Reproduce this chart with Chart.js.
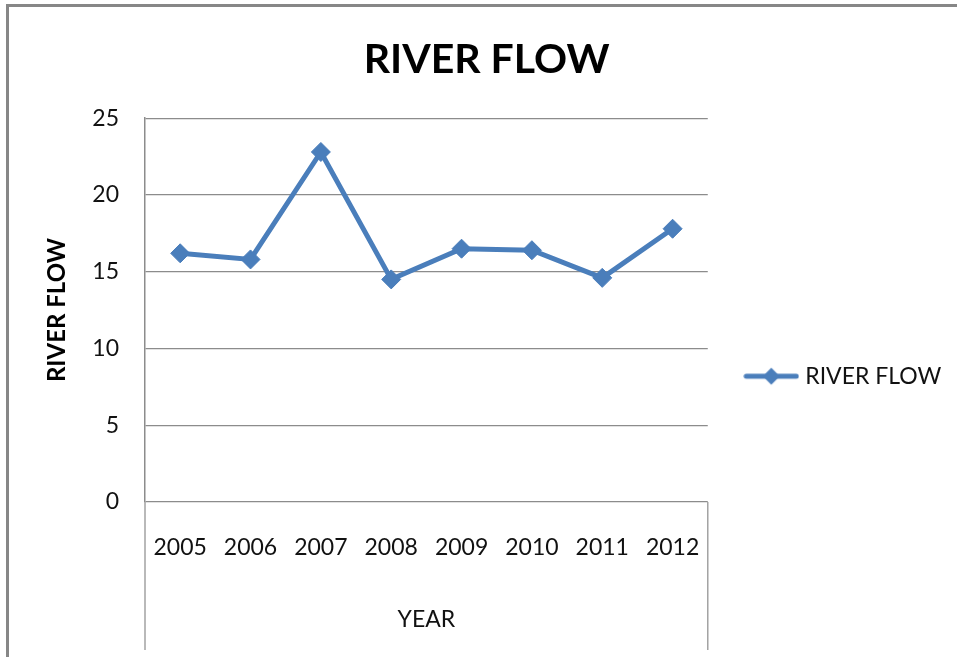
<!DOCTYPE html>
<html>
<head>
<meta charset="utf-8">
<title>River Flow</title>
<script src="https://cdn.jsdelivr.net/npm/chart.js@4.4.1/dist/chart.umd.min.js"></script>
<style>
  html, body { margin: 0; padding: 0; background: #fff; }
  #wrap { width: 957px; height: 657px; }
</style>
</head>
<body>
<div id="wrap"><canvas id="flowChart" width="957" height="657"></canvas></div>
<script>
const years = ["2005", "2006", "2007", "2008", "2009", "2010", "2011", "2012"]
const riverFlow = [16.2, 15.8, 22.8, 14.5, 16.5, 16.4, 14.6, 17.8]
const flowTicks = [0, 5, 10, 15, 20, 25]

const LINE_BLUE = "#4a7ebb"
const GRID_GREY = "#8c8c8c"
const TEXT = "#111"
const FONT = "Lato"

// small line + diamond swatch used as the legend symbol
function makeLegendIcon(){
  const icon = document.createElement("canvas")
  icon.width = 56
  icon.height = 20
  const c = icon.getContext("2d")
  c.strokeStyle = LINE_BLUE
  c.lineWidth = 5
  c.lineCap = "round"
  c.beginPath()
  c.moveTo(3, 10)
  c.lineTo(53, 10)
  c.stroke()
  c.fillStyle = LINE_BLUE
  c.beginPath()
  c.moveTo(28, 1.5)
  c.lineTo(36.5, 10)
  c.lineTo(28, 18.5)
  c.lineTo(19.5, 10)
  c.closePath()
  c.fill()
  return icon
}

const framePlugin = {
  id: "frame",
  beforeDraw(chart){
    const ctx = chart.ctx
    ctx.save()
    ctx.fillStyle = "#fff"
    ctx.fillRect(0, 0, chart.width, chart.height)
    ctx.strokeStyle = "#878787"
    ctx.lineWidth = 3
    ctx.beginPath()
    ctx.moveTo(7.5, chart.height)
    ctx.lineTo(7.5, 5.5)
    ctx.lineTo(chart.width, 5.5)
    ctx.stroke()
    ctx.restore()
  },
  afterDraw(chart){
    // category axis box running down past the year labels
    const {left, right, bottom} = chart.chartArea
    const ctx = chart.ctx
    ctx.save()
    ctx.strokeStyle = "#a3a3a3"
    ctx.lineWidth = 1.5
    ctx.beginPath()
    ctx.moveTo(left, bottom)
    ctx.lineTo(left, 650)
    ctx.moveTo(right, bottom)
    ctx.lineTo(right, 650)
    ctx.stroke()
    ctx.restore()
  }
}

new Chart(document.getElementById("flowChart"), {
  type: "line",
  data: {
    labels: years,
    datasets: [{
      label: "RIVER FLOW",
      data: riverFlow,
      borderColor: LINE_BLUE,
      backgroundColor: LINE_BLUE,
      borderWidth: 5,
      tension: 0,
      pointStyle: "rectRot",
      pointRadius: 9.5,
      pointBorderWidth: 1,
      pointBackgroundColor: LINE_BLUE,
      pointBorderColor: LINE_BLUE
    }]
  },
  options: {
    responsive: false,
    animation: false,
    layout: {
      padding: { left: 22, right: 5.7, top: 0, bottom: 0 }
    },
    plugins: {
      tooltip: { enabled: false },
      title: {
        display: true,
        text: "RIVER FLOW",
        color: "#000",
        font: { family: FONT, size: 41, weight: "bold" },
        padding: { top: 35, bottom: 34 }
      },
      legend: {
        position: "right",
        maxWidth: 300,
        title: {
          display: true,
          text: "",
          padding: { top: 0, bottom: 81 }
        },
        labels: {
          usePointStyle: true,
          pointStyle: makeLegendIcon(),
          pointStyleWidth: 45,
          padding: 41,
          color: TEXT,
          font: { family: FONT, size: 23 }
        }
      }
    },
    scales: {
      x: {
        offset: true,
        grid: { display: false },
        border: { display: false },
        ticks: {
          color: TEXT,
          padding: 24,
          font: { family: FONT, size: 23 }
        },
        title: {
          display: true,
          text: "YEAR",
          color: TEXT,
          font: { family: FONT, size: 23 },
          padding: { top: 0, bottom: 24 }
        },
        afterFit(scale){
          scale.height = 155
        }
      },
      y: {
        min: 0,
        max: 25,
        afterBuildTicks(axis){
          axis.ticks = flowTicks.map(v => ({ value: v }))
        },
        grid: {
          color: GRID_GREY,
          lineWidth: 1.2,
          drawTicks: false
        },
        border: { color: GRID_GREY, width: 1.5 },
        ticks: {
          color: TEXT,
          padding: 26,
          font: { family: FONT, size: 23 }
        },
        title: {
          display: true,
          text: "RIVER FLOW",
          color: "#000",
          font: { family: FONT, size: 24, weight: "bold" },
          padding: { top: 21, bottom: 0 }
        },
        afterFit(scale){
          scale.width = 123
        }
      }
    }
  },
  plugins: [framePlugin]
})
</script>
</body>
</html>
